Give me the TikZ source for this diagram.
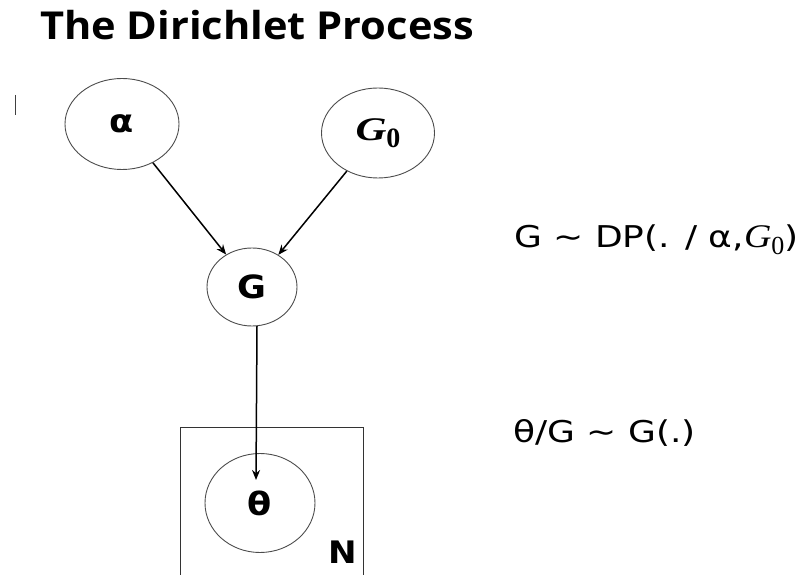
\documentclass[tikz,border=0pt]{standalone}
\usepackage{fontspec}
\setmainfont{Open Sans}[FakeStretch=1.08]
\newfontfamily\nodefont{DejaVu Sans}[FakeStretch=1.1]
\newfontfamily\eqfont{DejaVu Sans}[FakeStretch=1.2]
\newfontfamily\serifwide{Liberation Serif}[FakeStretch=1.15]
\newfontfamily\serifwider{Liberation Serif}[FakeStretch=1.3]
\newfontfamily\serifplain{Liberation Serif}
\usetikzlibrary{arrows.meta,shapes.geometric}

\tikzset{
  rv/.style={draw=black!70, line width=0.9pt, ellipse, inner sep=0pt,
             font=\nodefont\fontsize{32}{36}\selectfont\bfseries},
  edge/.style={draw=black, line width=1.5pt,
               -{Stealth[length=10pt,width=8pt]}},
  plate/.style={draw=black!80, line width=1pt},
  eqn/.style={anchor=base west, inner sep=0pt,
              font=\eqfont\fontsize{30}{34}\selectfont},
}

\begin{document}
\begin{tikzpicture}[x=1pt,y=-1pt]
  \useasboundingbox (0,0) rectangle (809,575);

  % title
  \node[anchor=base west, inner sep=0pt,
        font=\fontsize{38.5}{44}\selectfont\bfseries] (title) at (40,40)
        {The Dirichlet Process};

  % small tick mark at the left
  \coordinate (tickA) at (15.5,95);
  \coordinate (tickB) at (15.5,115);
  \draw[draw=black!75, line width=1.5pt] (tickA) -- (tickB);

  % plate for the N observations
  \coordinate (plA) at (180,580);
  \coordinate (plB) at (180,427);
  \coordinate (plC) at (363,427);
  \coordinate (plD) at (363,580);
  \draw[plate] (plA) -- (plB) -- (plC) -- (plD);
  \node[anchor=base, inner sep=0pt,
        font=\nodefont\fontsize{31}{36}\selectfont\bfseries] (N) at (343,563) {N};

  % random variables
  \node[rv, minimum width=114pt, minimum height=91pt] (alpha) at (122,124) {α};
  \node[rv, minimum width=113pt, minimum height=90pt] (Gbase) at (378,133)
       {{\serifwider\fontsize{33}{36}\selectfont\bfseries\itshape G}\raisebox{-7pt}{\serifplain\fontsize{28}{30}\selectfont\bfseries 0}};
  \node[rv, minimum width=90pt, minimum height=78pt] (G) at (252,287) {G};
  \node[rv, minimum width=110pt, minimum height=99pt] (theta) at (260,503) {θ};
  \coordinate (Gout) at (257,326);
  \coordinate (thetain) at (256,480);

  % dependencies
  \draw[edge] (alpha) -- (G);
  \draw[edge] (Gbase) -- (G);
  \draw[edge] (Gout) -- (thetain);

  % generative equations
  \node[eqn] (eqG) at (514,247)
       {G \textasciitilde\ DP(. / α,{\serifwide\fontsize{33}{36}\selectfont\itshape G}\raisebox{-8pt}{\serifplain\fontsize{26}{28}\selectfont 0})};
  \node[eqn] (eqT) at (513,442) {θ/G \textasciitilde\ G(.)};
\end{tikzpicture}
\end{document}
